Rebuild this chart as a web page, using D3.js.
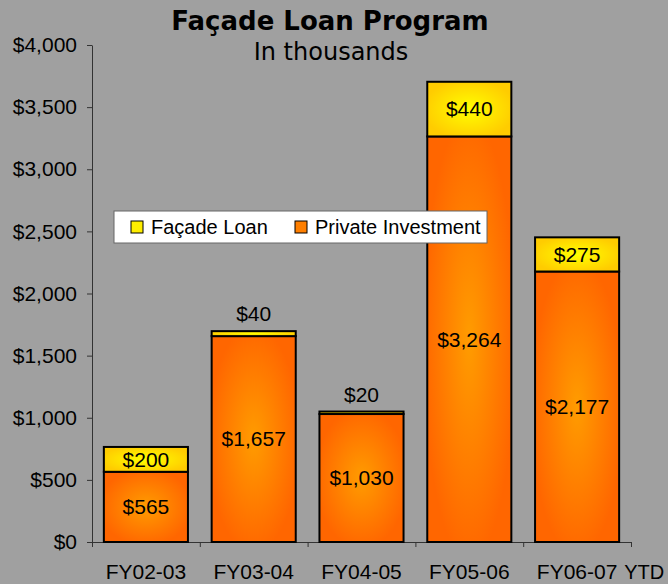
<!DOCTYPE html>
<html>
<head>
<meta charset="utf-8">
<script src="https://cdn.jsdelivr.net/npm/d3@7"></script>
<style>
  body { margin: 0; background: #a0a0a0; }
  svg { display: block; }
</style>
</head>
<body>
<div id="chart"></div>
<script>
"use strict";

// chart data (in thousands)
var categories = ["FY02-03", "FY03-04", "FY04-05", "FY05-06", "FY06-07"];
var privateInvestment = [565, 1657, 1030, 3264, 2177];
var facadeLoan = [200, 40, 20, 440, 275];
var yTicks = [0, 500, 1000, 1500, 2000, 2500, 3000, 3500, 4000];
var seriesNames = ["Façade Loan", "Private Investment"];

function drawChart()
{
    var W = 668, H = 584;
    var margin = {top: 45, right: 37, bottom: 42, left: 92};

    var svg = d3.select("#chart")
        .append("svg")
        .attr("width", W)
        .attr("height", H);

    svg.append("rect")
        .attr("width", W)
        .attr("height", H)
        .attr("fill", "#a0a0a0");

    // gradients, light in the middle and darker at the edges
    var defs = svg.append("defs");
    var grads = [
        {id: "gOrange", inner: "#ff9c00", outer: "#ff6600"},
        {id: "gYellow", inner: "#ffff00", outer: "#ffcc00"}
    ];
    grads.forEach(function(g) {
        var rg = defs.append("radialGradient")
            .attr("id", g.id)
            .attr("cx", "50%").attr("cy", "50%").attr("r", "55%");
        rg.append("stop").attr("offset", "0%").attr("stop-color", g.inner);
        rg.append("stop").attr("offset", "100%").attr("stop-color", g.outer);
    });

    // scales
    var x = d3.scaleBand()
        .domain(categories)
        .range([margin.left, W - margin.right])
        .paddingInner(0.22)
        .paddingOuter(0.11);

    var y = d3.scaleLinear()
        .domain([0, 4000])
        .range([H - margin.bottom, margin.top]);

    var fmt = function(v) { return "$" + d3.format(",")(v); };

    // y axis
    var yAxis = svg.append("g")
        .attr("transform", "translate(" + margin.left + ",0)")
        .call(d3.axisLeft(y).tickValues(yTicks).tickFormat(fmt)
            .tickSizeInner(5).tickSizeOuter(0).tickPadding(10));
    yAxis.selectAll("text")
        .style("font-family", "'Liberation Sans', Arial, sans-serif")
        .style("font-size", "21px")
        .attr("fill", "#000");
    yAxis.selectAll("line, path").attr("stroke", "#333");

    // x axis: tick marks between categories
    var xb = d3.scaleLinear()
        .domain([0, categories.length])
        .range(x.range());
    var xAxis = svg.append("g")
        .attr("transform", "translate(0," + y(0) + ")")
        .call(d3.axisBottom(xb).ticks(categories.length).tickFormat("")
            .tickSizeInner(5).tickSizeOuter(0));
    xAxis.selectAll("line, path").attr("stroke", "#333");

    // x labels
    var xLab = svg.append("g")
        .attr("transform", "translate(0," + y(0) + ")")
        .call(d3.axisBottom(x).tickSize(0).tickPadding(22));
    xLab.select(".domain").remove();
    xLab.selectAll("text")
        .style("font-family", "'Liberation Sans', Arial, sans-serif")
        .style("font-size", "21px")
        .attr("fill", "#000");

    svg.append("text")
        .attr("x", x(categories[4]) + x.bandwidth() + 5)
        .attr("y", y(0) + 37)
        .style("font-family", "'Liberation Sans', Arial, sans-serif")
        .style("font-size", "20px")
        .text("YTD");

    // stacked bars
    var rows = categories.map(function(c, i) {
        return {cat: c, priv: privateInvestment[i], loan: facadeLoan[i]};
    });

    var bars = svg.selectAll("g.bar")
        .data(rows)
        .enter()
        .append("g")
        .attr("class", "bar");

    bars.append("rect")
        .attr("x", function(d) { return x(d.cat); })
        .attr("y", function(d) { return y(d.priv); })
        .attr("width", x.bandwidth())
        .attr("height", function(d) { return y(0) - y(d.priv); })
        .attr("fill", "url(#gOrange)")
        .attr("stroke", "#000")
        .attr("stroke-width", 2);

    bars.append("rect")
        .attr("x", function(d) { return x(d.cat); })
        .attr("y", function(d) { return y(d.priv + d.loan); })
        .attr("width", x.bandwidth())
        .attr("height", function(d) { return y(d.priv) - y(d.priv + d.loan); })
        .attr("fill", "url(#gYellow)")
        .attr("stroke", "#000")
        .attr("stroke-width", 2);

    var labelFont = function(sel) {
        sel.style("font-family", "'Liberation Sans', Arial, sans-serif")
            .style("font-size", "21px")
            .attr("text-anchor", "middle")
            .attr("dy", "0.35em")
            .attr("fill", "#000");
    };

    bars.append("text")
        .attr("x", function(d) { return x(d.cat) + x.bandwidth() / 2; })
        .attr("y", function(d) { return (y(0) + y(d.priv)) / 2; })
        .call(labelFont)
        .text(function(d) { return fmt(d.priv); });

    // small segments get their label above the bar
    bars.append("text")
        .attr("x", function(d) { return x(d.cat) + x.bandwidth() / 2; })
        .attr("y", function(d) {
            var top = y(d.priv + d.loan);
            var segH = y(d.priv) - top;
            return segH < 20 ? top - 17 : top + segH / 2;
        })
        .call(labelFont)
        .text(function(d) { return fmt(d.loan); });

    // title
    svg.append("text")
        .attr("x", 330)
        .attr("y", 30)
        .attr("text-anchor", "middle")
        .style("font-family", "'DejaVu Sans', Verdana, sans-serif")
        .style("font-weight", "bold")
        .style("font-size", "26px")
        .text("Façade Loan Program");

    svg.append("text")
        .attr("x", 331)
        .attr("y", 60)
        .attr("text-anchor", "middle")
        .style("font-family", "'DejaVu Sans', Verdana, sans-serif")
        .style("font-size", "24px")
        .text("In thousands");

    // legend
    var legend = svg.append("g")
        .attr("transform", "translate(114,211)");
    legend.append("rect")
        .attr("width", 373)
        .attr("height", 32)
        .attr("fill", "#fff")
        .attr("stroke", "#666")
        .attr("stroke-width", 1);

    var items = legend.selectAll("g.item")
        .data(seriesNames)
        .enter()
        .append("g")
        .attr("class", "item")
        .attr("transform", function(d, i) {
            return "translate(" + (i === 0 ? 17 : 181) + ",0)";
        });
    items.append("rect")
        .attr("y", 10)
        .attr("width", 12)
        .attr("height", 12)
        .attr("fill", function(d, i) { return i === 0 ? "#ffee00" : "#ff7f00"; })
        .attr("stroke", "#000")
        .attr("stroke-width", 1);
    items.append("text")
        .attr("x", 20)
        .attr("y", 23)
        .style("font-family", "'Liberation Sans', Arial, sans-serif")
        .style("font-size", "20px")
        .text(function(d) { return d; });
}

window.addEventListener('load', function() {
    drawChart();
});
</script>
</body>
</html>
